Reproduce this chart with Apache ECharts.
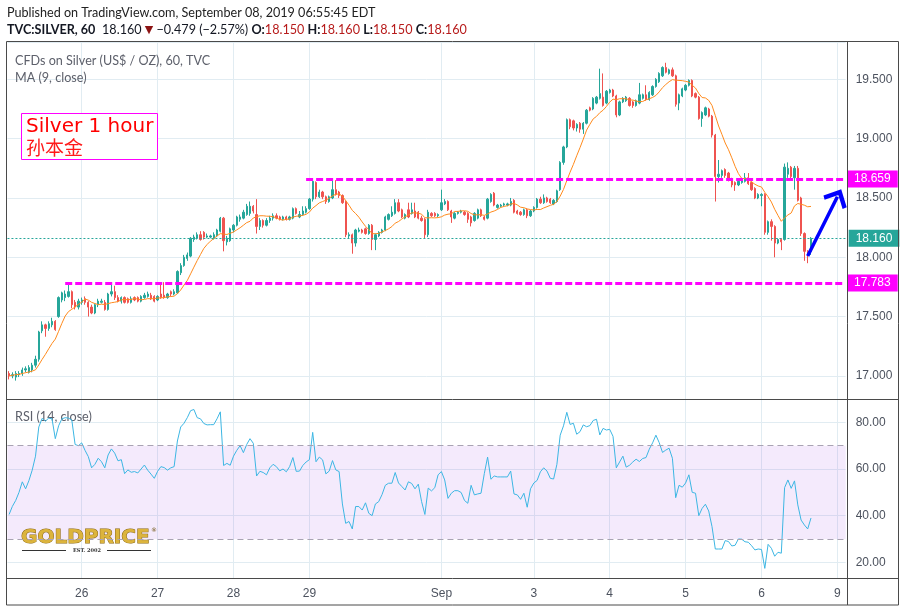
<!DOCTYPE html>
<html><head><meta charset="utf-8">
<script src="https://cdn.jsdelivr.net/npm/echarts@6/dist/echarts.min.js"></script>
<style>html,body{margin:0;padding:0;background:#fff}#c{width:905px;height:612px}</style>
</head><body><div id="c"></div>
<script>
// ---- hourly OHLC (TVC:SILVER, 60) ----
const opens = [17.02,17.00,16.99,17.01,17.02,17.05,17.03,17.05,17.09,17.14,17.38,17.43,17.40,17.43,17.46,17.50,17.64,17.66,17.67,17.71,
17.62,17.58,17.62,17.65,17.62,17.58,17.53,17.60,17.62,17.62,17.56,17.69,17.71,17.66,17.63,17.66,17.65,17.62,17.66,17.66,
17.63,17.66,17.67,17.68,17.67,17.64,17.69,17.68,17.66,17.71,17.69,17.70,17.87,17.93,17.99,18.01,18.15,18.16,18.19,18.21,
18.17,18.17,18.16,18.18,18.22,18.33,18.13,18.14,18.23,18.27,18.32,18.33,18.36,18.37,18.43,18.36,18.26,18.31,18.27,18.31,
18.33,18.35,18.34,18.32,18.34,18.32,18.33,18.41,18.34,18.36,18.38,18.41,18.49,18.63,18.51,18.55,18.51,18.47,18.50,18.57,
18.55,18.52,18.47,18.18,18.19,18.12,18.22,18.23,18.24,18.20,18.27,18.15,18.18,18.21,18.23,18.32,18.35,18.37,18.46,18.40,
18.33,18.40,18.37,18.39,18.38,18.33,18.32,18.19,18.37,18.37,18.35,18.40,18.45,18.47,18.39,18.33,18.37,18.38,18.38,18.37,
18.34,18.31,18.33,18.40,18.34,18.33,18.47,18.54,18.42,18.43,18.44,18.44,18.44,18.48,18.39,18.38,18.36,18.40,18.35,18.39,
18.42,18.49,18.46,18.50,18.49,18.45,18.47,18.57,18.80,18.93,19.16,19.15,19.09,19.13,19.08,19.13,19.26,19.25,19.30,19.34,
19.35,19.30,19.39,19.41,19.36,19.20,19.31,19.32,19.34,19.31,19.28,19.30,19.34,19.37,19.33,19.37,19.44,19.48,19.53,19.60,
19.55,19.58,19.53,19.30,19.36,19.41,19.45,19.49,19.38,19.35,19.17,19.20,19.25,19.19,19.03,18.68,18.69,18.74,18.71,18.66,
18.63,18.61,18.63,18.64,18.67,18.63,18.58,18.50,18.52,18.53,18.21,18.30,18.26,18.12,18.15,18.15,18.70,18.76,18.67,18.75,
18.50,18.20,18.05,18.05];
const closes = [17.00,17.01,17.02,17.02,17.05,17.06,17.07,17.09,17.14,17.37,17.43,17.40,17.44,17.46,17.39,17.66,17.70,17.69,17.71,17.60,
17.58,17.63,17.64,17.62,17.58,17.53,17.60,17.63,17.63,17.56,17.69,17.71,17.66,17.63,17.66,17.62,17.62,17.65,17.64,17.63,
17.67,17.68,17.69,17.65,17.63,17.67,17.66,17.66,17.69,17.69,17.71,17.88,17.93,18.00,18.02,18.16,18.17,18.19,18.15,18.17,
18.18,18.18,18.19,18.23,18.33,18.14,18.16,18.24,18.27,18.34,18.34,18.38,18.43,18.43,18.39,18.26,18.31,18.27,18.31,18.33,
18.35,18.33,18.32,18.34,18.32,18.34,18.41,18.37,18.36,18.39,18.41,18.49,18.64,18.51,18.55,18.51,18.47,18.51,18.57,18.53,
18.52,18.46,18.19,18.19,18.12,18.23,18.23,18.21,18.20,18.27,18.15,18.19,18.21,18.23,18.34,18.36,18.38,18.46,18.39,18.34,
18.36,18.34,18.40,18.34,18.33,18.31,18.19,18.38,18.35,18.35,18.36,18.46,18.47,18.40,18.34,18.37,18.38,18.39,18.36,18.32,
18.29,18.37,18.40,18.35,18.32,18.49,18.53,18.44,18.44,18.44,18.45,18.45,18.47,18.38,18.37,18.36,18.40,18.35,18.39,18.42,
18.49,18.46,18.50,18.47,18.46,18.48,18.56,18.80,18.93,19.16,19.10,19.09,19.12,19.08,19.13,19.24,19.24,19.34,19.35,19.38,
19.28,19.40,19.41,19.36,19.20,19.31,19.34,19.35,19.28,19.28,19.32,19.37,19.37,19.33,19.39,19.44,19.50,19.55,19.60,19.56,
19.58,19.53,19.29,19.37,19.42,19.45,19.49,19.36,19.35,19.17,19.22,19.26,19.19,19.03,18.68,18.70,18.73,18.69,18.66,18.61,
18.61,18.64,18.66,18.67,18.62,18.57,18.50,18.53,18.53,18.21,18.30,18.26,18.12,18.15,18.13,18.76,18.75,18.68,18.75,18.48,
18.20,18.05,18.03,18.16];
const lows = [16.97,16.98,16.96,16.99,17.00,17.03,17.02,17.03,17.07,17.12,17.36,17.33,17.38,17.41,17.38,17.49,17.62,17.63,17.66,17.57,
17.56,17.56,17.60,17.60,17.50,17.52,17.52,17.58,17.61,17.55,17.55,17.67,17.64,17.62,17.61,17.61,17.61,17.61,17.63,17.62,
17.62,17.65,17.66,17.64,17.62,17.63,17.65,17.65,17.65,17.67,17.68,17.69,17.85,17.92,17.97,18.00,18.13,18.15,18.14,18.15,
18.16,18.16,18.15,18.17,18.21,18.05,18.10,18.13,18.21,18.26,18.30,18.32,18.35,18.35,18.37,18.20,18.23,18.25,18.26,18.29,
18.31,18.32,18.31,18.31,18.31,18.31,18.32,18.36,18.33,18.35,18.37,18.40,18.47,18.49,18.50,18.49,18.45,18.46,18.49,18.52,
18.50,18.45,18.17,18.16,18.03,18.09,18.21,18.20,18.19,18.19,18.06,18.06,18.17,18.20,18.22,18.31,18.34,18.36,18.38,18.33,
18.32,18.33,18.36,18.33,18.32,18.30,18.16,18.17,18.34,18.34,18.34,18.39,18.44,18.39,18.29,18.32,18.36,18.37,18.35,18.29,
18.26,18.30,18.32,18.34,18.31,18.32,18.46,18.43,18.41,18.42,18.43,18.43,18.43,18.37,18.36,18.35,18.35,18.33,18.34,18.38,
18.41,18.45,18.45,18.46,18.45,18.44,18.46,18.56,18.78,18.92,19.08,19.07,19.06,19.05,19.04,19.12,19.23,19.24,19.29,19.33,
19.27,19.29,19.38,19.35,19.18,19.19,19.30,19.31,19.27,19.26,19.27,19.29,19.33,19.32,19.32,19.36,19.43,19.47,19.52,19.55,
19.54,19.52,19.27,19.24,19.35,19.40,19.44,19.35,19.34,19.16,19.10,19.19,19.18,19.01,18.47,18.63,18.67,18.67,18.64,18.59,
18.56,18.60,18.62,18.63,18.61,18.56,18.49,18.49,18.43,18.19,18.19,18.14,18.00,18.11,18.06,18.14,18.67,18.66,18.57,18.47,
18.18,17.97,17.95,18.02];
const highs = [17.04,17.03,17.04,17.04,17.07,17.08,17.09,17.11,17.17,17.38,17.46,17.44,17.46,17.49,17.47,17.67,17.71,17.72,17.77,17.72,
17.64,17.65,17.66,17.67,17.63,17.60,17.61,17.65,17.65,17.64,17.70,17.77,17.76,17.68,17.67,17.67,17.66,17.67,17.67,17.67,
17.68,17.70,17.71,17.70,17.68,17.68,17.79,17.79,17.70,17.72,17.73,17.89,17.95,18.02,18.04,18.17,18.19,18.21,18.22,18.22,
18.20,18.19,18.21,18.24,18.34,18.34,18.18,18.25,18.28,18.35,18.36,18.40,18.45,18.47,18.44,18.49,18.33,18.32,18.33,18.35,
18.37,18.37,18.35,18.35,18.35,18.35,18.42,18.42,18.39,18.43,18.43,18.50,18.66,18.64,18.57,18.56,18.52,18.52,18.65,18.65,
18.56,18.53,18.48,18.21,18.20,18.24,18.25,18.24,18.25,18.28,18.28,18.20,18.22,18.24,18.35,18.37,18.43,18.49,18.49,18.41,
18.37,18.46,18.46,18.46,18.39,18.35,18.33,18.40,18.38,18.38,18.37,18.57,18.49,18.48,18.40,18.38,18.39,18.40,18.39,18.38,
18.35,18.38,18.41,18.41,18.35,18.50,18.54,18.55,18.45,18.45,18.46,18.46,18.50,18.49,18.40,18.39,18.41,18.41,18.40,18.43,
18.50,18.51,18.53,18.51,18.50,18.49,18.57,18.81,18.94,19.17,19.17,19.16,19.13,19.14,19.14,19.25,19.27,19.35,19.36,19.59,
19.55,19.41,19.42,19.42,19.37,19.32,19.35,19.36,19.35,19.32,19.33,19.47,19.38,19.45,19.40,19.45,19.51,19.56,19.61,19.64,
19.59,19.60,19.54,19.38,19.43,19.46,19.50,19.50,19.39,19.36,19.23,19.27,19.26,19.20,19.04,18.82,18.74,18.75,18.72,18.67,
18.64,18.65,18.67,18.71,18.71,18.64,18.59,18.54,18.54,18.54,18.31,18.32,18.27,18.16,18.16,18.79,18.80,18.77,18.77,18.77,
18.51,18.21,18.06,18.17];
// ---- RSI (14, close) ----
const rsiValues = [40.5,44,46.5,50,54.5,51.5,55,59.5,65.5,78,81.7,80.5,81.8,81.5,73,78.5,81.5,82,81.8,81,
70.5,70,71.2,68,65.3,60.5,62,64.6,63.1,60.5,66,68.6,66.8,63.5,64,58,59.6,58.6,58.9,58.3,
60,61.7,59.5,57.8,56,59,61,60.6,59.5,60.5,61,72,78,79.6,82,85,85.5,82,81.5,79.5,
78.9,79,79,81.5,84.5,61.5,62.4,61.6,65.5,68,70,67,70.5,73,71,57,59,58.5,57.5,60.5,
62,61,59.2,60,58.8,61,64.9,59,59.1,61.5,63,64,75.7,63.1,65.1,63.9,57.9,59.1,63.6,59.6,
58.9,45,36.7,37.5,34.3,43.9,43.9,42.4,45.5,41,40,45,46,49,53,53.9,53.9,58.5,54,52.5,
51,54.5,53.8,51.5,53.5,46,40.5,51.8,50.6,52,57.5,58.9,55.3,47.4,49.6,50.7,50.7,49.9,46.5,45.3,
53,48.9,49.3,49.6,58,65.1,55.6,57,56.6,56.6,56.6,56.6,59.1,49.3,48.9,47,49.6,43.6,51.5,54,
55.1,58.8,60.5,59.1,56,55.7,62,74.5,78.5,84.3,79.1,79.6,74.9,76,78.9,78.1,78.6,80.8,81.3,74.6,
77.4,76.7,77,74,60.5,63,65.5,60.8,61.6,63,64.2,63.2,64.5,64.9,68.5,71.2,74.5,71.3,67.1,68.1,
68.9,64.6,47.7,53,52.2,54,57.5,50,49.6,40,43.1,44.9,42,35.3,25.7,25.7,25.7,29.3,28.9,27,
27.3,30,29.9,28.8,28.6,27.1,25.3,25.7,25.5,17.4,27.7,26,22.6,24.3,23.9,52,55.3,51.7,54.9,44.6,
38.1,36,34.3,39];
// ---- time axis ----
const slotCount = 254;                       // bars incl. empty right margin
const dayTickIndex = [22,45,68,91,131,159,182,205,228,251];
const dayTickText  = ['26','27','28','29','Sep','3','4','5','6','9'];
// ---- drawn levels / annotations (data coordinates) ----
const levelValues = [18.659, 17.783];
const levelStartIndex = [90, 17];
const lastPrice = 18.160;
const rsiBandValues = [70, 30];
const maPeriod = 9;
const arrowStart = [242, 18.01];
const arrowEnd = [251, 18.51];

const candles = opens.map((o, i) => [o, closes[i], lows[i], highs[i]]);
const ma = closes.map((c, i) => {
  const s = closes.slice(Math.max(0, i - maPeriod + 1), i + 1);
  return +(s.reduce((a, b) => a + b, 0) / s.length).toFixed(4);
});
const categories = Array.from({length: slotCount}, (_, i) => 'b' + i);
const tickSet = new Set(dayTickIndex);
const isTick = (idx) => tickSet.has(idx);
const tickText = (v, idx) => { const k = dayTickIndex.indexOf(idx); return k >= 0 ? dayTickText[k] : ''; };

const FONT = 'Liberation Sans, Arial, sans-serif';
const HFONT = 'Lato';
const GRID_COLOR = '#e1ecf2';
const AX_COLOR = '#4c525e';
const W = 3.3;
const gridLeft = 7.45, gridWidth = W * slotCount;

function tag(bg) {
  return { show: true, position: 'end', distance: 3, color: '#fff', backgroundColor: bg,
    fontFamily: FONT, fontSize: 12, padding: [3, 7, 2, 7], lineHeight: 12 };
}
const chevron = 'path://M0,0 L12,11 L9.3,13.7 L0,5.2 L-9.3,13.7 L-12,11 Z';

const markLineData = [];
levelValues.forEach((v, k) => {
  markLineData.push([
    { coord: [levelStartIndex[k], v], lineStyle: { color: '#ff00ff', width: 3, type: [7, 3] },
      label: Object.assign(tag('#ff00ff'), { formatter: v.toFixed(3) }) },
    { coord: [slotCount - 1, v] }
  ]);
});
markLineData.push({ yAxis: lastPrice, lineStyle: { color: '#26a69a', width: 1, type: [2, 2] },
  label: Object.assign(tag('#26a69a'), { formatter: lastPrice.toFixed(3) }) });
markLineData.push([
  { coord: arrowStart, symbol: 'none', lineStyle: { color: '#0000ff', width: 3.5, type: 'solid' }, label: { show: false } },
  { coord: arrowEnd, symbol: chevron, symbolSize: [26, 17] }
]);

const option = {
  animation: false,
  textStyle: { fontFamily: FONT },
  grid: [
    { left: gridLeft, top: 42, width: gridWidth, height: 357, outerBoundsMode: 'none', containLabel: false },
    { left: gridLeft, top: 399, width: gridWidth, height: 179, outerBoundsMode: 'none', containLabel: false }
  ],
  xAxis: [0, 1].map(g => ({
    type: 'category', gridIndex: g, data: categories, boundaryGap: true,
    axisLine: { show: false }, axisTick: { show: false },
    axisLabel: { show: g === 1, interval: isTick, formatter: tickText, color: AX_COLOR, fontSize: 12, margin: 10 },
    splitLine: { show: true, interval: isTick, alignWithLabel: true, lineStyle: { color: GRID_COLOR, width: 1 } }
  })),
  yAxis: [
    { type: 'value', gridIndex: 0, position: 'right', min: 16.805, max: 19.815, splitNumber: 6,
      axisLine: { show: false }, axisTick: { show: false },
      axisLabel: { showMinLabel: false, showMaxLabel: false, formatter: v => v.toFixed(3), color: AX_COLOR, fontSize: 12, margin: 10 },
      splitLine: { lineStyle: { color: GRID_COLOR, width: 1 } } },
    { type: 'value', gridIndex: 1, position: 'right', min: 13.27, max: 90, splitNumber: 4,
      axisLine: { show: false }, axisTick: { show: false },
      axisLabel: { showMinLabel: false, showMaxLabel: false, formatter: v => v.toFixed(2), color: AX_COLOR, fontSize: 12, margin: 10 },
      splitLine: { lineStyle: { color: GRID_COLOR, width: 1 } } }
  ],
  series: [
    { type: 'candlestick', xAxisIndex: 0, yAxisIndex: 0, data: candles, barWidth: 1.8,
      itemStyle: { color: '#26a69a', color0: '#ef5350', borderColor: '#26a69a', borderColor0: '#ef5350', borderWidth: 1 } },
    { type: 'line', xAxisIndex: 0, yAxisIndex: 0, data: ma, symbol: 'none', clip: false, z: 3,
      lineStyle: { color: '#ff8a1c', width: 1 },
      markLine: { silent: true, symbol: ['none', 'none'], animation: false, data: markLineData } },
    { type: 'line', xAxisIndex: 1, yAxisIndex: 1, data: rsiValues, symbol: 'none', z: 3,
      lineStyle: { color: '#3cb6e3', width: 1 },
      markArea: { silent: true, itemStyle: { color: 'rgba(168,80,230,0.12)' },
        data: [[{ yAxis: rsiBandValues[1] }, { yAxis: rsiBandValues[0] }]] },
      markLine: { silent: true, symbol: ['none', 'none'], label: { show: false },
        lineStyle: { color: '#a9a3b3', width: 1, type: [6, 4] },
        data: rsiBandValues.map(v => ({ yAxis: v })) } }
  ],
  graphic: [
    { type: 'text', z: 50, style: { x: 7, y: 13, verticalAlign: 'middle', text: 'Published on TradingView.com, September 08, 2019 06:55:45 EDT',
      font: '12.6px ' + HFONT, fill: '#222' } },
    { type: 'text', z: 50, style: { x: 7, y: 30, verticalAlign: 'middle',
      text: '{b|TVC:SILVER, 60}  {n|18.160 }{d|▼}{n| −0.479 (−2.57%) }{b|O:}{r|18.150 }{b|H:}{r|18.160 }{b|L:}{r|18.150 }{b|C:}{r|18.160}',
      rich: {
        b: { fontFamily: HFONT, fontSize: 12.6, fontWeight: 'bold', fill: '#131722' },
        n: { fontFamily: HFONT, fontSize: 12.6, fill: '#131722' },
        d: { fontFamily: 'DejaVu Sans', fontSize: 11, fill: '#8c1313' },
        r: { fontFamily: HFONT, fontSize: 12.6, fill: '#b71c1c' }
      } } },
    { type: 'text', z: 50, style: { x: 15, y: 61, verticalAlign: 'middle', text: 'CFDs on Silver (US$ / OZ), 60, TVC', font: '12.6px ' + HFONT, fill: '#5d606b' } },
    { type: 'text', z: 50, style: { x: 15, y: 78, verticalAlign: 'middle', text: 'MA (9, close)', font: '12.6px ' + HFONT, fill: '#5d606b' } },
    { type: 'text', z: 1, style: { x: 15, y: 417, verticalAlign: 'middle', text: 'RSI (14, close)', font: '12.6px ' + HFONT, fill: '#5d606b' } },
    // annotation box
    { type: 'rect', z: 40, shape: { x: 21.5, y: 113.5, width: 136, height: 46 }, style: { fill: '#fff', stroke: '#ff00ff', lineWidth: 1 } },
    { type: 'text', z: 41, style: { x: 26, y: 127, verticalAlign: 'middle', text: 'Silver 1 hour', font: '20px DejaVu Sans', fill: '#ff0000' } },
    { type: 'text', z: 41, style: { x: 26, y: 147.5, verticalAlign: 'middle', text: '孙本金', font: '19px Noto Sans CJK SC', fill: '#ff1a1a' } },
    // watermark logo
    { type: 'text', z: 2, style: { x: 21, y: 538, verticalAlign: 'middle', text: 'GOLDPRICE', font: 'bold 20px DejaVu Sans',
      fill: '#dcb43c', stroke: '#8a6612', lineWidth: 1 } },
    { type: 'text', z: 2, style: { x: 151, y: 530, verticalAlign: 'middle', text: '®', font: '6px DejaVu Sans', fill: '#6e5210' } },
    { type: 'line', z: 2, shape: { x1: 22, y1: 550.5, x2: 66, y2: 550.5 }, style: { stroke: '#333', lineWidth: 1 } },
    { type: 'line', z: 2, shape: { x1: 107, y1: 550.5, x2: 151, y2: 550.5 }, style: { stroke: '#333', lineWidth: 1 } },
    { type: 'text', z: 2, style: { x: 87, y: 551, align: 'center', verticalAlign: 'middle', text: 'EST. 2002', font: 'bold 5px DejaVu Serif', fill: '#333' } },
    // pane frames
    { type: 'rect', z: 100, shape: { x: 6.5, y: 41.5, width: 892, height: 563.5 }, style: { fill: 'none', stroke: '#4a4a4a', lineWidth: 1 } },
    { type: 'line', z: 100, shape: { x1: 847.5, y1: 41.5, x2: 847.5, y2: 605 }, style: { stroke: '#4a4a4a', lineWidth: 1 } },
    { type: 'line', z: 100, shape: { x1: 6.5, y1: 399.5, x2: 898.5, y2: 399.5 }, style: { stroke: '#4a4a4a', lineWidth: 1 } },
    { type: 'line', z: 100, shape: { x1: 6.5, y1: 578.5, x2: 898.5, y2: 578.5 }, style: { stroke: '#4a4a4a', lineWidth: 1 } }
  ]
};
const chart = echarts.init(document.getElementById('c'), null, { renderer: 'canvas' });
chart.setOption(option);
</script>
</body></html>
